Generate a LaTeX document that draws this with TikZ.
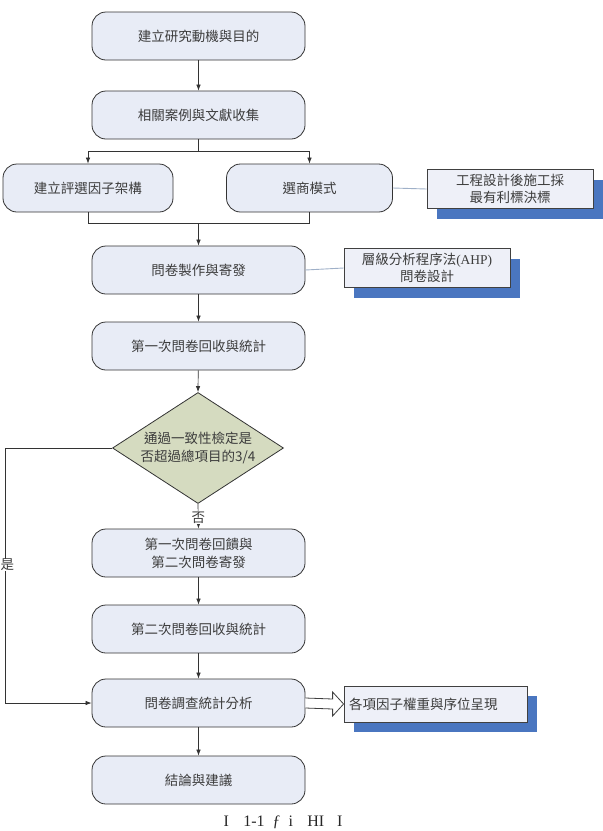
\documentclass[tikz,border=0pt]{standalone}
\usepackage{fontspec}
\setmainfont{Liberation Serif}
\newfontfamily\cjk{Noto Sans CJK TC}
\usetikzlibrary{shapes.geometric,arrows.meta,shadows,calc}
\definecolor{boxfill}{HTML}{E8ECF6}
\definecolor{notefill}{HTML}{EEF0F8}
\definecolor{dfill}{HTML}{D5DBC0}
\definecolor{shadowblue}{HTML}{4A76C0}
\definecolor{txt}{HTML}{3C3C3C}
\definecolor{linkblue}{HTML}{9FB0C8}
\tikzset{
  proc/.style={rectangle, rounded corners=14pt, draw=black!80, line width=0.8pt, fill=boxfill,
    minimum width=213pt, minimum height=48pt, align=center, text=txt,
    font=\cjk\fontsize{13.5}{18}\selectfont},
  note/.style={rectangle, draw=black!75, line width=0.8pt, fill=notefill,
    minimum width=166pt, minimum height=39pt, align=center, text=txt,
    font=\cjk\fontsize{13.5}{17}\selectfont,
    drop shadow={shadow xshift=10pt, shadow yshift=-10pt, fill=shadowblue, opacity=1}},
  decision/.style={diamond, draw=black!80, line width=0.8pt, fill=dfill,
    minimum width=171pt, minimum height=111pt, inner sep=0pt},
  dtext/.style={align=center, text=txt, font=\cjk\fontsize{13.5}{18}\selectfont},
  lab/.style={fill=white, inner sep=1pt, text=txt, font=\cjk\fontsize{13.5}{16}\selectfont},
  conn/.style={draw=black!80, line width=0.7pt},
  arr/.style={conn, -{Latex[length=6pt,width=4.5pt]}},
  link/.style={draw=linkblue, line width=0.9pt},
}
\begin{document}
\begin{tikzpicture}[x=1pt,y=-1pt]
\useasboundingbox (0,0) rectangle (603,831);

\node[proc] (b1) at (198.5,36) {建立研究動機與目的};
\node[proc] (b2) at (198.5,115) {相關案例與文獻收集};
\node[proc, minimum width=170pt] (b3) at (88,188) {建立評選因子架構};
\node[proc, minimum width=166pt] (b4) at (309.5,188) {選商模式};
\node[note] (b5) at (510,189) {工程設計後施工採\\最有利標決標};
\node[proc] (b6) at (198.5,270) {問卷製作與寄發};
\node[note] (ahp) at (427,268) {層級分析程序法\textrm{(AHP)}\\問卷設計};
\node[proc] (b7) at (198.5,346) {第一次問卷回收與統計};
\node[decision] (d) at (198,448) {};
\node[dtext] (dt) at (d.center) {通過一致性檢定是\\否超過總項目的3/4};
\node[proc] (b8) at (198.5,553) {第一次問卷回饋與\\第二次問卷寄發};
\node[proc] (b9) at (198.5,629) {第二次問卷回收與統計};
\node[proc] (b10) at (198.5,703) {問卷調查統計分析};
\node[proc] (b11) at (198.5,780) {結論與建議};
\node[note, minimum width=183pt, minimum height=36pt, text width=173pt, align=left, inner sep=5pt] (b12) at (435.5,704) {各項因子權重與序位呈現};

\node[font=\fontsize{16}{19}\selectfont, text=black!85] (cap) at (283,822) {I\hspace{0.9em}1-1\hspace{0.5em}ƒ\hspace{0.5em}i\hspace{0.9em}HI\hspace{0.8em}I};

\coordinate (split) at (198.5,151);
\coordinate (join) at (198.5,223);
\coordinate (loopA) at (5,448);
\coordinate (loopB) at (5,703);

\draw[arr] (b1) -- (b2);
\draw[conn] (b2.south) -- (split);
\draw[arr] (split) -| (b3.north);
\draw[arr] (split) -| (b4.north);
\draw[conn] (b3.south) |- (join);
\draw[conn] (b4.south) |- (join);
\draw[arr] (join) -- (b6.north);
\draw[link] (b4.east) -- (b5.west);
\draw[link] (b6.east) -- (ahp.west);
\draw[arr] (b6) -- (b7);
\draw[arr] (b7) -- (d.north);
\draw[arr] (d.south) -- node[lab, pos=0.55] (no) {否} (b8.north);
\draw[arr] (b8) -- (b9);
\draw[arr] (b9) -- (b10);
\draw[arr] (b10) -- (b11);
\draw[conn] (d.west) -- (loopA) -- (loopB);
\node[lab, anchor=west, inner sep=0.5pt] (yes) at (0,565) {是};
\draw[arr] (loopB) -- (b10.west);

\draw[draw=black!75, line width=0.8pt, fill=white]
  ($(b10.east)+(0,-5)$) -- ($(b12.west)+(-11,-5)$) -- ($(b12.west)+(-11,-12)$)
  -- (b12.west) -- ($(b12.west)+(-11,12)$) -- ($(b12.west)+(-11,5)$)
  -- ($(b10.east)+(0,5)$);
\end{tikzpicture}
\end{document}
